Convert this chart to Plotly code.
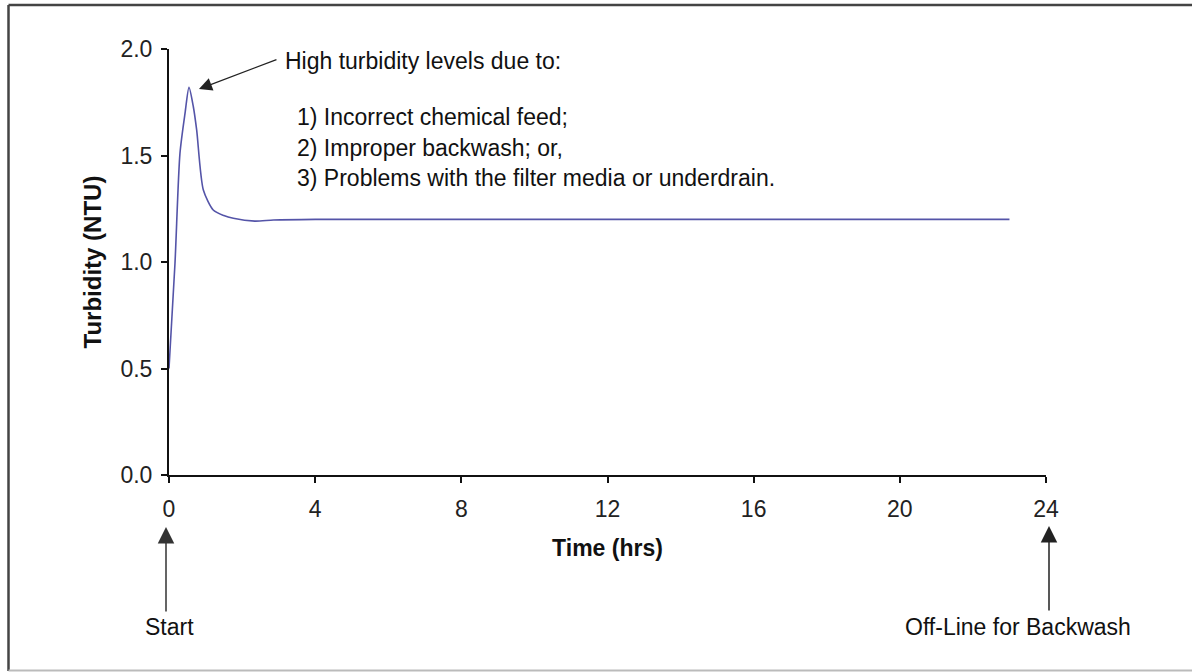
import plotly.graph_objects as go

# Data
time_hrs = [0, 0.164, 0.30, 0.44, 0.547, 0.665, 0.757, 0.94, 1.21, 1.5, 1.76, 2.35, 2.86, 4, 8, 12, 16, 20, 23]
turbidity = [0.5, 0.994, 1.51, 1.70, 1.82, 1.73, 1.62, 1.338, 1.244, 1.218, 1.205, 1.192, 1.197, 1.2, 1.2, 1.2, 1.2, 1.2, 1.2]
x_ticks = [0, 4, 8, 12, 16, 20, 24]
y_ticks = [0.0, 0.5, 1.0, 1.5, 2.0]
note_title = "High turbidity levels due to:"
note_lines = ["1) Incorrect chemical feed;",
              "2) Improper backwash; or,",
              "3) Problems with the filter media or underdrain."]

FONT = "Liberation Sans, Arial, sans-serif"
W, H = 1192, 672
L, R, T, B = 169, 146, 49, 197
pw, ph = W - L - R, H - T - B

def px(x):
    return (x - L) / pw

def py(y):
    return (H - B - y) / ph

fig = go.Figure()
fig.add_trace(go.Scatter(x=time_hrs, y=turbidity, mode="lines",
                         line=dict(color="#5454a8", width=1.6, shape="spline", smoothing=0.7),
                         showlegend=False, hoverinfo="x+y"))

axis_common = dict(showline=True, linecolor="#111", linewidth=2, ticks="outside",
                   ticklen=6, tickwidth=1.5, tickcolor="#111", showgrid=False, zeroline=False,
                   tickfont=dict(family=FONT, size=23, color="#222"))

fig.update_xaxes(range=[0, 24], tickvals=x_ticks, ticklabelstandoff=6, **axis_common,
                 title=dict(text="<b>Time (hrs)</b>", font=dict(family=FONT, size=23, color="#111"), standoff=19))
fig.update_yaxes(range=[0, 2.0], tickvals=y_ticks, tickformat=".1f", ticklabelstandoff=4, **axis_common,
                 title=dict(text="<b>Turbidity (NTU)</b>", font=dict(family=FONT, size=24, color="#111"), standoff=12))

TXT = dict(family=FONT, size=23, color="#111")
ann = []
ann.append(dict(xref="paper", yref="paper", x=px(283), y=py(61), xanchor="left", yanchor="middle",
                text=note_title, showarrow=False, font=TXT))
for i, line in enumerate(note_lines):
    ann.append(dict(xref="paper", yref="paper", x=px(295), y=py(117 + 30.5 * i), xanchor="left",
                    yanchor="middle", text=line, showarrow=False, font=TXT))
# arrow pointing at the peak
ann.append(dict(xref="x", yref="y", x=0.82, y=1.812, text="",
                showarrow=True, ax=79, ay=-30, arrowhead=2, arrowsize=2.0, arrowwidth=1.3,
                arrowcolor="#222", standoff=0, startstandoff=0))
# Start arrow
ann.append(dict(xref="paper", yref="paper", x=px(166), y=py(527), text="", showarrow=True, ax=0, ay=86,
                arrowhead=2, arrowsize=2.2, arrowwidth=1.5, arrowcolor="#333", standoff=0))
ann.append(dict(xref="paper", yref="paper", x=px(169), y=py(627), text="Start", showarrow=False,
                xanchor="center", yanchor="middle", font=TXT))
# Off-line arrow
ann.append(dict(xref="paper", yref="paper", x=px(1049), y=py(526), text="", showarrow=True, ax=0, ay=86,
                arrowhead=2, arrowsize=2.2, arrowwidth=1.5, arrowcolor="#222", standoff=0))
ann.append(dict(xref="paper", yref="paper", x=px(1018), y=py(627), text="Off-Line for Backwash",
                showarrow=False, xanchor="center", yanchor="middle", font=TXT))

shapes = [
    dict(type="line", xref="paper", yref="paper", x0=px(8.5), x1=px(1192), y0=py(5), y1=py(5),
         line=dict(color="#444", width=2.5)),
    dict(type="line", xref="paper", yref="paper", x0=px(8.5), x1=px(8.5), y0=py(5), y1=py(671),
         line=dict(color="#444", width=2.5)),
    dict(type="line", xref="paper", yref="paper", x0=px(8.5), x1=px(1192), y0=py(670.5), y1=py(670.5),
         line=dict(color="#bbb", width=2)),
]

fig.update_layout(width=W, height=H, margin=dict(l=L, r=R, t=T, b=B),
                  paper_bgcolor="white", plot_bgcolor="white",
                  annotations=ann, shapes=shapes, showlegend=False)

fig.write_html("out.html", config={"displayModeBar": False},
               post_script="document.body.style.margin='0';document.body.style.overflow='hidden';")
